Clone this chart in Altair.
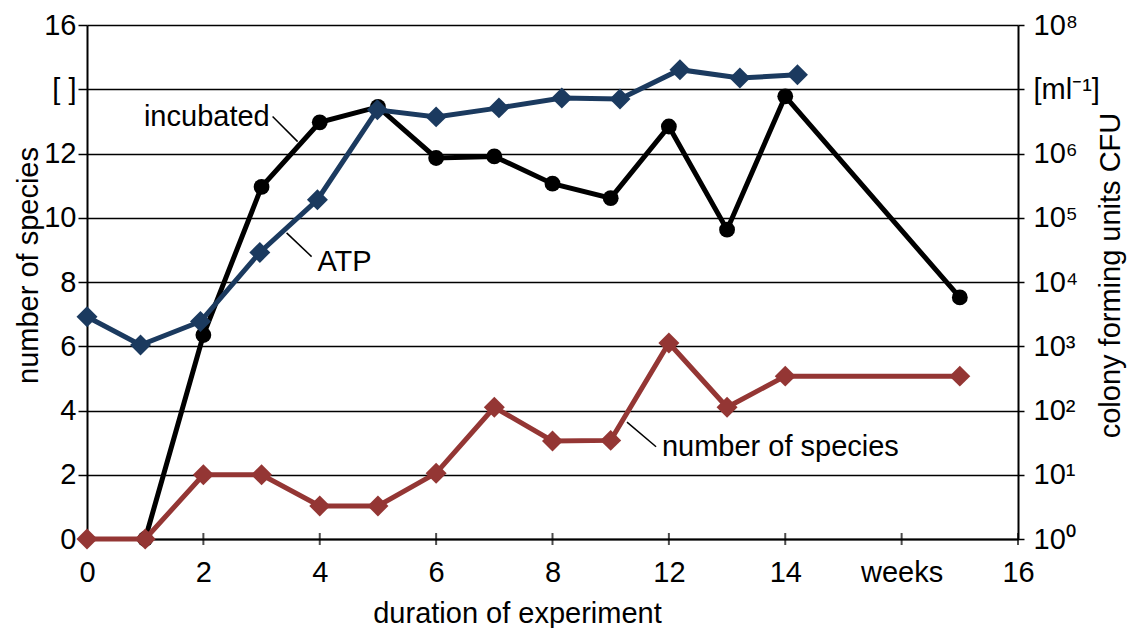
import altair as alt
import pandas as pd

# ---- data ----
species_x = [0, 1, 2, 3, 4, 5, 6, 7, 8, 9, 10, 11, 12, 15]
species_y = [0, 0, 2, 2, 1.03, 1.03, 2.05, 4.1, 3.05, 3.07, 6.1, 4.1, 5.07, 5.07]

atp_x = [0, 0.92, 1.95, 2.97, 3.96, 4.99, 6.0, 7.08, 8.16, 9.16, 10.19, 11.22, 12.21]
atp_y = [6.92, 6.04, 6.77, 8.92, 10.56, 13.36, 13.14, 13.42, 13.73, 13.7, 14.61, 14.35, 14.45]

inc_x = [1, 2, 3, 4, 5, 6, 7, 8, 9, 10, 11, 12, 15]
inc_y = [0, 6.35, 10.96, 12.97, 13.45, 11.86, 11.91, 11.06, 10.61, 12.84, 9.63, 13.78, 7.52]

x_tick_values = [0, 2, 4, 6, 8, 10, 12, 14, 16]
x_tick_labels = ["0", "2", "4", "6", "8", "12", "14", "weeks", "16"]

y_tick_values = [0, 2, 4, 6, 8, 10, 12, 14, 16]
left_labels = ["0", "2", "4", "6", "8", "10", "12", "[ ]", "16"]
right_labels = ["10⁰", "10¹", "10²", "10³", "10⁴", "10⁵", "10⁶", "[ml⁻¹]", "10⁸"]

ann_text = ["incubated", "ATP", "number of species"]
ann_x = [3.14, 3.96, 9.88]
ann_y = [13.15, 8.63, 2.87]
ann_align = ["right", "left", "left"]
lead_x = [3.19, 3.86, 9.78]
lead_y = [13.15, 8.79, 2.87]
lead_x2 = [3.62, 3.43, 9.28]
lead_y2 = [12.37, 9.53, 3.64]

FONT = "Liberation Sans"
FS = 29
W, H = 931, 514

def expr_map(values, labels):
    e = "''"
    for v, l in zip(reversed(values), reversed(labels)):
        e = f"datum.value == {v} ? '{l}' : ({e})"
    return e

xscale = alt.Scale(domain=[0, 16], nice=False, zero=False)
yscale = alt.Scale(domain=[0, 16], nice=False)

x_axis = alt.Axis(
    values=x_tick_values, labelExpr=expr_map(x_tick_values, x_tick_labels),
    title="duration of experiment", grid=False, ticks=False,
    domainColor="black", domainWidth=2, labelPadding=19,
    labelFontSize=FS, labelFont=FONT, labelColor="black", labelFlush=False,
    titleFontSize=FS, titleFont=FONT, titleColor="black", titleFontWeight="normal",
    titleX=430, titleY=74, titleBaseline="middle", titleAlign="center",
)
left_axis = alt.Axis(
    values=y_tick_values, labelExpr=expr_map(y_tick_values, left_labels),
    orient="left", title="number of species", grid=True, gridColor="black",
    gridWidth=1.5, gridOpacity=1, domainColor="black", domainWidth=2,
    tickColor="black", tickSize=9, tickWidth=1.5, labelPadding=2,
    labelFontSize=FS, labelFont=FONT, labelColor="black", labelFlush=False,
    titleFontSize=FS, titleFont=FONT, titleColor="black", titleFontWeight="normal",
    titleAngle=270, titleX=-59, titleY=240, titleBaseline="middle", titleAlign="center",
)
right_axis = alt.Axis(
    values=y_tick_values, labelExpr=expr_map(y_tick_values, right_labels),
    orient="right", title="colony forming units CFU", grid=False,
    domainColor="black", domainWidth=2, tickColor="black", tickSize=6,
    tickWidth=1.5, labelPadding=9, labelAlign="left",
    labelFontSize=FS, labelFont=FONT, labelColor="black", labelFlush=False,
    titleFontSize=FS, titleFont=FONT, titleColor="black", titleFontWeight="normal",
    titleAngle=270, titleX=92, titleY=250, titleBaseline="middle", titleAlign="center",
)

species = pd.DataFrame({"x": species_x, "y": species_y})
atp = pd.DataFrame({"x": atp_x, "y": atp_y})
inc = pd.DataFrame({"x": inc_x, "y": inc_y})
ticks_df = pd.DataFrame({"x": x_tick_values, "y": [0] * len(x_tick_values)})
ann = pd.DataFrame({"t": ann_text, "x": ann_x, "y": ann_y, "a": ann_align})
lead = pd.DataFrame({"x": lead_x, "y": lead_y, "x2": lead_x2, "y2": lead_y2})
right_df = pd.DataFrame({"y": y_tick_values})

X = lambda: alt.X("x:Q", scale=xscale)
Y = lambda: alt.Y("y:Q", scale=yscale, axis=None)

base_grid = alt.Chart(ticks_df).mark_tick(
    orient="vertical", size=12, thickness=2, color="black"
).encode(
    x=alt.X("x:Q", scale=xscale, axis=x_axis),
    y=alt.Y("y:Q", scale=yscale, axis=left_axis),
)

def series(df, color, shape, size):
    return alt.Chart(df).mark_line(
        color=color, strokeWidth=5,
        point=alt.OverlayMarkDef(shape=shape, size=size, color=color, filled=True, opacity=1),
    ).encode(x=X(), y=Y())

inc_layer = series(inc, "#000000", "circle", 250)
atp_layer = series(atp, "#1b3a5f", "diamond", 440)
sp_layer = series(species, "#943634", "diamond", 440)

leaders = alt.Chart(lead).mark_rule(color="black", strokeWidth=1.5).encode(
    x=X(), y=Y(), x2="x2:Q", y2="y2:Q",
)

texts = []
for al in ["left", "right"]:
    texts.append(
        alt.Chart(ann[ann["a"] == al]).mark_text(
            align=al, baseline="middle", font=FONT, fontSize=FS, color="black"
        ).encode(x=X(), y=Y(), text="t:N")
    )

right_layer = alt.Chart(right_df).mark_tick(opacity=0).encode(
    y=alt.Y("y:Q", scale=yscale, axis=right_axis),
)

chart = alt.layer(
    base_grid, inc_layer, atp_layer, sp_layer, leaders, *texts, right_layer
).resolve_axis(y="independent").properties(
    width=W, height=H,
    autosize=alt.AutoSizeParams(type="none"),
    padding={"left": 87, "top": 25, "right": 1129 - 87 - W, "bottom": 628 - 25 - H},
    background="white",
).configure_view(strokeWidth=0)

chart.save("out.html", embed_options={"renderer": "svg", "actions": False})
